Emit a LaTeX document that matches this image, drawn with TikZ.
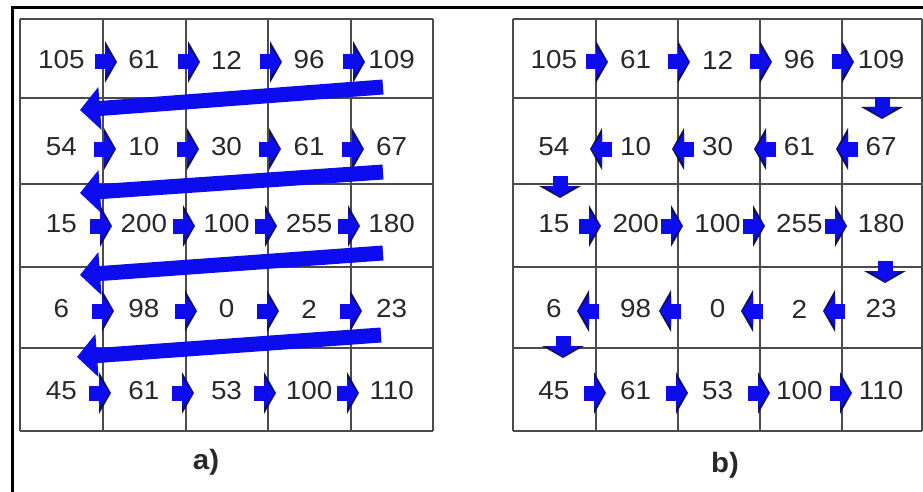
\documentclass[tikz,border=0pt]{standalone}
\usepackage{fontspec}
\setmainfont{Liberation Sans}
\usetikzlibrary{arrows.meta}
\definecolor{arrblue}{RGB}{12,12,238}
\definecolor{arrnavy}{RGB}{15,15,90}
\definecolor{gridgray}{RGB}{75,75,75}
\definecolor{numgray}{RGB}{40,40,40}
\begin{document}
\begin{tikzpicture}[x=1pt,y=-1pt,
  num/.style={font=\fontsize{26}{26}\selectfont, xscale=1.07, transform shape, text=numgray, inner sep=0pt},
  lbl/.style={font=\fontsize{28}{28}\selectfont\bfseries, xscale=1.05, transform shape, text=numgray, inner sep=0pt},
  gridline/.style={draw=gridgray, line width=1.5pt},
  framestyle/.style={draw=black, line width=3pt},
  bigarrow/.style={draw=arrblue, line width=15pt, -{Triangle[length=20pt,width=42pt]}},
  sarr/.pic={
    \fill[arrnavy] (-11,-21) -- (1,0) -- (-11,21) -- cycle;
    \fill[arrblue] (-11,-15) -- (0,0) -- (-11,15) -- cycle;
    \fill[arrblue] (-21,-7.5) rectangle (-10.5,7.5);
  }
]
\useasboundingbox (0,0) rectangle (923,492);
% outer frame (cropped)
\draw[framestyle] (12,505) -- (12,8) -- (935,8);

% grids
\foreach \x in {20,103,186,268,351,433} \draw[gridline] (\x,19) -- (\x,431);
\foreach \y in {19,98,184,267,348,431} \draw[gridline] (20,\y) -- (433,\y);
\foreach \x in {513,596,678,760,842,922} \draw[gridline] (\x,19) -- (\x,431);
\foreach \y in {19,98,184,267,348,431} \draw[gridline] (513,\y) -- (922,\y);

% numbers
\foreach \r/\yy/\vals in {1/60/{105,61,12,96,109},2/147/{54,10,30,61,67},3/224/{15,200,100,255,180},4/309/{6,98,0,2,23},5/391/{45,61,53,100,110}}{
  \foreach \v [count=\c] in \vals {
    \node[num] (a-\r-\c) at ({20+(\c-0.5)*82.6},\yy) {\v};
    \node[num] (b-\r-\c) at ({513+(\c-0.5)*81.8},\yy) {\v};
  }
}

% small arrows, panel a (all to the right)
\foreach \yy/\off in {62/13,149/12,226/8,311/10,393/7}{
  \foreach \L in {103,186,268,351}{
    \pic at ({\L+\off},\yy) {sarr};
  }
}
% small arrows, panel b
\foreach \yy/\off in {62/11,226/4,393/9}{
  \foreach \L in {596,678,760,842}{
    \pic at ({\L+\off},\yy) {sarr};
  }
}
\foreach \yy/\off in {149/-5,311/-18}{
  \foreach \L in {596,678,760,842}{
    \pic[rotate=180] at ({\L+\off},\yy) {sarr};
  }
}
% down arrows, panel b
\pic[rotate=-90] at (882,118) {sarr};
\pic[rotate=-90] at (560,197) {sarr};
\pic[rotate=-90] at (885,282) {sarr};
\pic[rotate=-90] at (563,357) {sarr};

% long arrows, panel a
\coordinate (t1) at (383,87);  \coordinate (h1) at (80,110);
\coordinate (t2) at (383,172); \coordinate (h2) at (80,193);
\coordinate (t3) at (383,253); \coordinate (h3) at (80,275);
\coordinate (t4) at (381,335); \coordinate (h4) at (77,357);
\foreach \i in {1,2,3,4} \draw[bigarrow] (t\i) -- (h\i);

% labels
\node[lbl] (la) at (206,462) {a)};
\node[lbl] (lb) at (725,465) {b)};
\end{tikzpicture}
\end{document}
